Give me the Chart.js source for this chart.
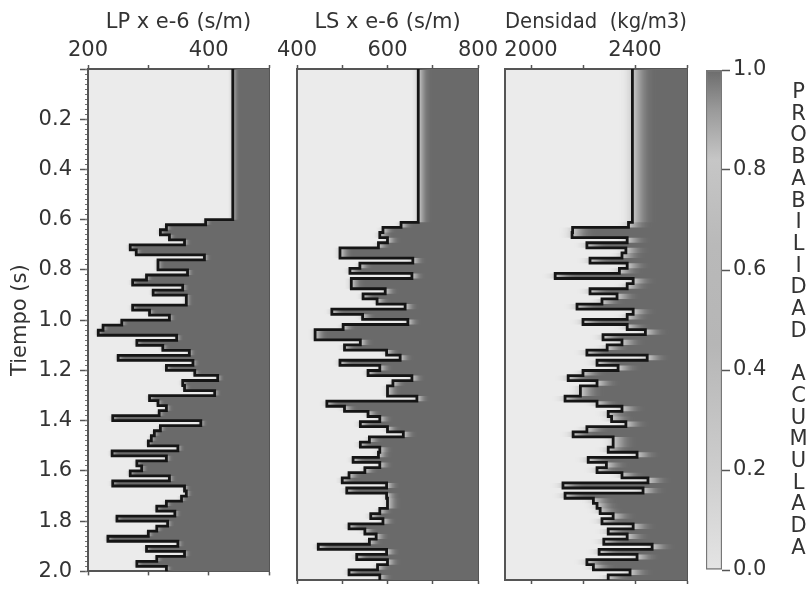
<!DOCTYPE html>
<html>
<head>
<meta charset="utf-8">
<script src="https://cdn.jsdelivr.net/npm/chart.js@4.4.1/dist/chart.umd.min.js"></script>
<style>
  html, body { margin: 0; padding: 0; background: #fff; }
  #wrap { position: relative; width: 809px; height: 592px; }
  #wrap canvas { position: absolute; left: 0; top: 0; }
  #probLabel {
    position: absolute; left: 788px; top: 81px; width: 21px;
    font: 21px "DejaVu Sans", sans-serif; line-height: 21.7px;
    text-align: center; color: #333; white-space: pre;
  }
</style>
</head>
<body>
<svg width="0" height="0" style="position:absolute">
  <filter id="softLP" filterUnits="userSpaceOnUse" x="-2000" y="-2000" width="6000" height="6000" color-interpolation-filters="sRGB">
    <feGaussianBlur stdDeviation="2.5 0.4"/><feOffset dx="1" dy="0"/>
  </filter>
  <filter id="softLS" filterUnits="userSpaceOnUse" x="-2000" y="-2000" width="6000" height="6000" color-interpolation-filters="sRGB">
    <feGaussianBlur stdDeviation="4 0.4"/><feOffset dx="2.5" dy="0"/>
  </filter>
  <filter id="softRho" filterUnits="userSpaceOnUse" x="-2000" y="-2000" width="6000" height="6000" color-interpolation-filters="sRGB">
    <feGaussianBlur stdDeviation="7.5 0.4"/><feOffset dx="5" dy="0"/>
  </filter>
</svg>
<div id="wrap">
  <canvas id="lpChart" width="809" height="592"></canvas>
  <canvas id="lsChart" width="809" height="592"></canvas>
  <canvas id="rhoChart" width="809" height="592"></canvas>
  <canvas id="barChart" width="809" height="592"></canvas>
  <div id="probLabel"></div>
</div>
<script>
// time of each step (s), values hold until the next time
const times = [0, 0.60, 0.62, 0.64, 0.66, 0.68, 0.70, 0.72, 0.74, 0.76, 0.78,
  0.80, 0.82, 0.84, 0.86, 0.88, 0.90, 0.92, 0.94, 0.96, 0.98,
  1.00, 1.02, 1.04, 1.06, 1.08, 1.10, 1.12, 1.14, 1.16, 1.18,
  1.20, 1.22, 1.24, 1.26, 1.28, 1.30, 1.32, 1.34, 1.36, 1.38,
  1.40, 1.42, 1.44, 1.46, 1.48, 1.50, 1.52, 1.54, 1.56, 1.58,
  1.60, 1.62, 1.64, 1.66, 1.68, 1.70, 1.72, 1.74, 1.76, 1.78,
  1.80, 1.82, 1.84, 1.86, 1.88, 1.90, 1.92, 1.94, 1.96, 1.98, 2.00];

// LP x e-6 (s/m)
const lpValues = [440, 395, 330, 320, 335, 360, 270, 280, 393, 316, 316,
  365, 297, 274, 357, 308, 363, 363, 274, 302, 335,
  256, 225, 217, 347, 281, 324, 368, 250, 374, 330,
  377, 415, 357, 360, 410, 302, 316, 330, 318, 241,
  387, 320, 310, 305, 300, 349, 240, 330, 281, 289,
  270, 335, 241, 360, 363, 355, 330, 314, 344, 248,
  332, 314, 300, 233, 349, 297, 360, 314, 281, 330, 330];

// LS x e-6 (s/m)
const lsValues = [668, 630, 590, 583, 600, 580, 495, 495, 656, 539, 517,
  654, 520, 520, 595, 546, 577, 639, 477, 545, 645,
  502, 440, 440, 540, 505, 598, 628, 495, 583, 557,
  654, 612, 600, 600, 665, 466, 505, 557, 583, 540,
  600, 635, 560, 540, 583, 580, 524, 583, 550, 515,
  500, 598, 510, 598, 600, 600, 583, 563, 590, 515,
  550, 575, 560, 447, 598, 532, 600, 578, 515, 583, 583];

// Densidad (kg/m3)
const rhoValues = [2390, 2375, 2160, 2158, 2370, 2215, 2365, 2350, 2227, 2370, 2340,
  2093, 2393, 2370, 2227, 2331, 2273, 2177, 2393, 2370, 2200,
  2370, 2440, 2277, 2350, 2293, 2215, 2447, 2254, 2335, 2200,
  2143, 2254, 2190, 2190, 2131, 2254, 2350, 2297, 2310, 2365,
  2215, 2162, 2316, 2316, 2297, 2408, 2220, 2290, 2254, 2350,
  2450, 2123, 2431, 2131, 2240, 2254, 2266, 2316, 2273, 2393,
  2297, 2370, 2280, 2466, 2262, 2408, 2215, 2240, 2381, 2297, 2297];

// axis ticks and the ones that carry a label
const lpTicks = [200, 300, 400, 500];
const lpLabels = [200, 400];
const lsTicks = [400, 500, 600, 700, 800];
const lsLabels = [400, 600, 800];
const rhoTicks = [2000, 2200, 2400, 2600];
const rhoLabels = [2000, 2400];
const timeTicks = [0.2, 0.4, 0.6, 0.8, 1.0, 1.2, 1.4, 1.6, 1.8, 2.0];
const probTicks = [0.0, 0.2, 0.4, 0.6, 0.8, 1.0];
const probTitle = 'PROBABILIDAD ACUMULADA';

Chart.defaults.font.family = '"DejaVu Sans", sans-serif';
Chart.defaults.font.size = 21;
Chart.defaults.color = '#333';

const frame = '#555';

// light background of the plot area
const areaBg = {
  id: 'areaBg',
  beforeDraw(chart) {
    const {ctx, chartArea: a} = chart;
    ctx.save();
    ctx.fillStyle = '#ebebeb';
    ctx.fillRect(a.left, a.top, a.right - a.left, a.bottom - a.top);
    ctx.restore();
  }
};

// soft edge on the probability fill (horizontal smear)
const softEdge = {
  id: 'softEdge',
  beforeDatasetsDraw(chart, args, opts) {
    chart.ctx.filter = opts.filter || 'none';
  },
  afterDatasetDraw(chart, args) {
    if (chart.data.datasets[args.index].fill) chart.ctx.filter = 'none';
  },
  afterDatasetsDraw(chart) {
    chart.ctx.filter = 'none';
  }
};

function makePanel(id, vals, cfg) {
  const linePts = times.map((t, i) => ({ x: vals[i], y: t }));
  const fillPts = times.map((t, i) => ({ x: vals[i], y: t }));
  const isFirst = cfg.first;

  const scales = {
    x: {
      type: 'linear', axis: 'x', position: 'top', min: cfg.min, max: cfg.max,
      afterBuildTicks: s => { s.ticks = cfg.ticks.map(v => ({ value: v })); },
      ticks: {
        padding: 2, autoSkip: false, maxRotation: 0,
        callback: v => cfg.labels.includes(v) ? String(v) : ''
      },
      grid: { drawOnChartArea: false, tickLength: 4, tickColor: frame, tickWidth: 1.5 },
      border: { color: frame, width: 2 },
      title: { display: true, text: cfg.title, padding: { top: 10, bottom: 0 } },
      afterFit: s => { s.height = 69; }
    },
    xb: {
      type: 'linear', axis: 'x', position: 'bottom', min: cfg.min, max: cfg.max,
      afterBuildTicks: s => { s.ticks = cfg.ticks.map(v => ({ value: v })); },
      ticks: { display: false },
      grid: { drawOnChartArea: false, tickLength: 4, tickColor: frame, tickWidth: 1.5 },
      border: { color: frame, width: 2 },
      afterFit: s => { s.height = 12; }
    },
    y: {
      type: 'linear', axis: 'y', position: 'left', reverse: true, min: 0, max: 2, weight: 1,
      ticks: isFirst
        ? { stepSize: 0.2, padding: 8, autoSkip: false,
            callback: v => timeTicks.some(t => Math.abs(t - v) < 1e-6) ? v.toFixed(1) : '' }
        : { display: false },
      grid: isFirst
        ? { drawOnChartArea: false, tickLength: 8, tickColor: frame, tickWidth: 1.5 }
        : { display: false },
      border: { color: frame, width: 2 },
      title: { display: !!isFirst, text: 'Tiempo (s)', padding: { top: 8, bottom: 0 } },
      afterFit: s => { s.width = isFirst ? 88 : 0; }
    },
    yR: {
      type: 'linear', axis: 'y', position: 'right', reverse: true, min: 0, max: 2,
      ticks: { display: false },
      grid: { display: false },
      border: { color: frame, width: 2 },
      afterFit: s => { s.width = 0; }
    }
  };
  if (isFirst) {
    scales.yMinor = {
      type: 'linear', axis: 'y', position: 'left', reverse: true, min: 0, max: 2, weight: 0,
      ticks: { stepSize: 0.02, display: false },
      grid: { drawOnChartArea: false, tickLength: 3, tickColor: '#777', tickWidth: 1 },
      border: { display: false },
      afterFit: s => { s.width = 0; }
    };
  }

  return new Chart(document.getElementById(id), {
    type: 'line',
    data: {
      datasets: [
        { data: linePts, order: 0, stepped: 'after', borderColor: '#151515',
          borderWidth: 2.8, pointRadius: 0, fill: false },
        { data: fillPts, order: 1, stepped: 'after', borderColor: 'rgba(0,0,0,0)',
          borderWidth: 0, pointRadius: 0, backgroundColor: '#6a6a6a',
          fill: { value: cfg.max + (cfg.max - cfg.min) } }
      ]
    },
    options: {
      indexAxis: 'y',
      responsive: false,
      animation: false,
      layout: { padding: { left: cfg.left, right: 809 - cfg.right, top: 0, bottom: 0 } },
      plugins: {
        legend: { display: false },
        tooltip: { enabled: false },
        softEdge: { filter: cfg.filter }
      },
      scales: scales
    },
    plugins: [areaBg, softEdge]
  });
}

makePanel('lpChart', lpValues, {
  first: true, left: 0, right: 269, min: 200, max: 500,
  ticks: lpTicks, labels: lpLabels, title: 'LP x e-6 (s/m)', filter: 'url(#softLP)'
});
makePanel('lsChart', lsValues, {
  left: 297, right: 478, min: 400, max: 800,
  ticks: lsTicks, labels: lsLabels, title: 'LS x e-6 (s/m)', filter: 'url(#softLS)'
});
makePanel('rhoChart', rhoValues, {
  left: 505, right: 687, min: 1900, max: 2600,
  ticks: rhoTicks, labels: rhoLabels, title: 'Densidad  (kg/m3)', filter: 'url(#softRho)'
});

// colour bar
new Chart(document.getElementById('barChart'), {
  type: 'bar',
  data: {
    labels: [''],
    datasets: [{
      data: [[0, 1]],
      backgroundColor: c => {
        const a = c.chart.chartArea;
        if (!a) return '#bbb';
        const g = c.chart.ctx.createLinearGradient(0, a.bottom, 0, a.top);
        g.addColorStop(0.0, '#e4e4e4');
        g.addColorStop(0.2, '#cdcdcd');
        g.addColorStop(0.45, '#b6b6b6');
        g.addColorStop(0.65, '#b9b9b9');
        g.addColorStop(0.82, '#c6c6c6');
        g.addColorStop(0.92, '#9a9a9a');
        g.addColorStop(1.0, '#6c6c6c');
        return g;
      },
      borderColor: '#777',
      borderWidth: 1.5,
      borderSkipped: false,
      barPercentage: 1,
      categoryPercentage: 1
    }]
  },
  options: {
    responsive: false,
    animation: false,
    layout: { padding: { left: 706, right: 27, top: 70, bottom: 22 } },
    plugins: { legend: { display: false }, tooltip: { enabled: false } },
    scales: {
      x: { display: false },
      y: {
        position: 'right', min: 0, max: 1,
        ticks: { stepSize: 0.2, padding: 3, autoSkip: false,
          callback: v => probTicks.some(t => Math.abs(t - v) < 1e-6) ? v.toFixed(1) : '' },
        grid: { drawOnChartArea: false, tickLength: 8, tickColor: frame, tickWidth: 1.5 },
        border: { display: false },
        afterFit: s => { s.width = 60; }
      }
    }
  }
});

document.getElementById('probLabel').textContent = probTitle.split('').join('\n');
</script>
</body>
</html>
